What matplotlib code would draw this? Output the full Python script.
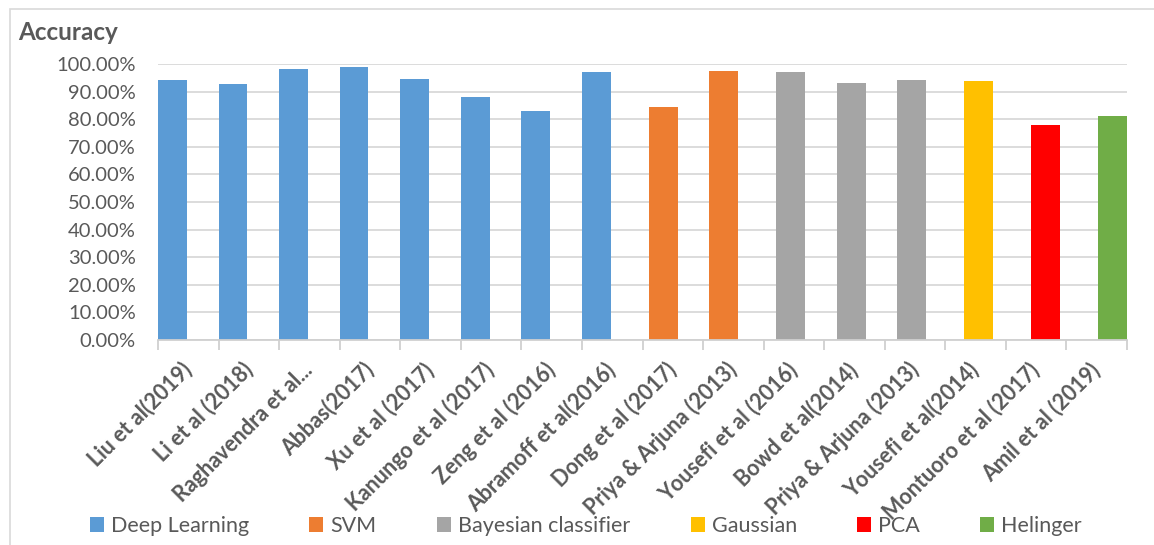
import numpy as np
import matplotlib
matplotlib.use("Agg")
import matplotlib.pyplot as plt
from matplotlib.patches import Patch, Rectangle
from matplotlib.ticker import FuncFormatter

plt.rcParams["font.family"] = ["Lato", "DejaVu Sans"]

# data
studies = ["Liu et al(2019)", "Li et al (2018)", "Raghavendra et al...", "Abbas(2017)",
           "Xu et al (2017)", "Kanungo et al (2017)", "Zeng et al (2016)",
           "Abramoff et al(2016)", "Dong et al (2017)", "Priya & Arjuna (2013)",
           "Yousefi et al (2016)", "Bowd et al(2014)", "Priya & Arjuna (2013)",
           "Yousefi et al(2014)", "Montuoro et al (2017)", "Amil et al (2019)"]
accuracy = [94.2, 92.8, 98.1, 98.9, 94.5, 88.0, 82.9, 97.0,
            84.6, 97.6, 97.0, 93.1, 94.2, 93.9, 78.0, 81.3]
method = [0, 0, 0, 0, 0, 0, 0, 0, 1, 1, 2, 2, 2, 3, 4, 5]

methods = ["Deep Learning", "SVM", "Bayesian classifier", "Gaussian", "PCA", "Helinger"]
colors = ["#5B9BD5", "#ED7D31", "#A5A5A5", "#FFC000", "#FF0000", "#70AD47"]

GRAY = "#595959"

fig = plt.figure(figsize=(11.54, 5.45), dpi=100)
ax = fig.add_axes([158 / 1154, 205 / 545, 969 / 1154, 276 / 545])

# Excel clustered columns: one series per method, so bars shift inside the category
w = 0.4755
step = (1 - w) / (len(methods) - 1)
x = np.arange(len(studies))
acc = np.array(accuracy)
grp = np.array(method)
for s, (name, c) in enumerate(zip(methods, colors)):
    m = grp == s
    ax.bar(x[m] - 0.5 + w / 2 + s * step, acc[m], width=w, color=c, zorder=3)

ax.set_xlim(-0.5, len(studies) - 0.5)
ax.set_ylim(0, 100)
ax.set_yticks(np.arange(0, 101, 10))
ax.yaxis.set_major_formatter(FuncFormatter(lambda v, p: f"{v:.2f}%"))
ax.grid(True, axis="y", color="#d9d9d9", linewidth=1.3, zorder=0)

for sp in ["top", "right", "left"]:
    ax.spines[sp].set_visible(False)
ax.spines["bottom"].set_color("#d0d0d0")
ax.spines["bottom"].set_linewidth(1.3)
ax.spines["bottom"].set_zorder(4)

ax.set_xticks(x)
ax.set_xticklabels(studies, rotation=45, ha="right", va="center",
                   rotation_mode="anchor", fontsize=15.5, fontweight="bold", color=GRAY)
ax.set_xticks(np.arange(-0.5, len(studies)), minor=True)
ax.tick_params(axis="x", which="major", length=0, pad=19)
ax.tick_params(axis="x", which="minor", length=7, width=1.3, color="#d0d0d0")
ax.tick_params(axis="y", length=0, pad=16, labelsize=14.5, labelcolor=GRAY)

fig.text(18 / 1154, 1 - 32 / 545, "Accuracy", fontsize=17.5, fontweight="bold",
         color=GRAY, ha="left", va="center")

handles = [Patch(facecolor=c, edgecolor="none") for c in colors]
fig.legend(handles, methods, ncol=6, loc="center", bbox_to_anchor=(586 / 1154, 19 / 545),
           frameon=False, fontsize=15.5, labelcolor=GRAY, handlelength=0.65,
           handleheight=0.65, handletextpad=0.33, columnspacing=2.8)

# chart area border
fig.patches.append(Rectangle((10 / 1154, -0.1), 1.2, (545 - 9) / 545 + 0.1,
                             transform=fig.transFigure, fill=False,
                             edgecolor="#d9d9d9", linewidth=1.2))

plt.savefig("out.png", dpi=100)
plt.close()
